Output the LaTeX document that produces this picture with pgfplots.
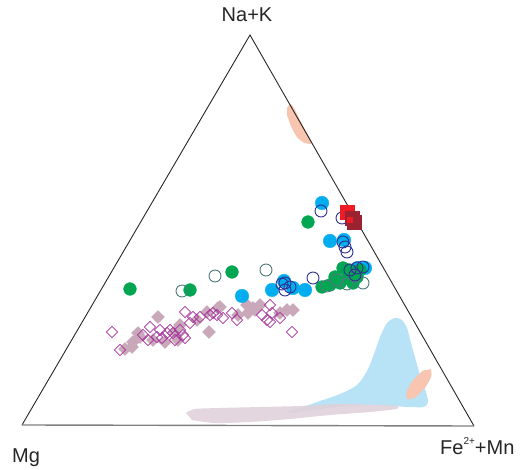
\documentclass[border=0pt]{standalone}
\usepackage{pgfplots}
\pgfplotsset{compat=1.18}
\usepackage{fontspec}
\setmainfont{Liberation Sans}

\definecolor{cyanpt}{HTML}{00AEEF}
\definecolor{greenpt}{HTML}{00A651}
\definecolor{navypt}{HTML}{2E3192}
\definecolor{tealpt}{HTML}{4E7B7A}
\definecolor{purplept}{HTML}{A5319B}
\definecolor{mauvept}{HTML}{C9A8BA}
\definecolor{redpt}{HTML}{ED1C24}
\definecolor{darkredpt}{HTML}{9B2230}
\definecolor{salmonfield}{HTML}{F8C6B0}
\definecolor{bluefield}{HTML}{B8E3F6}
\definecolor{mauvefield}{HTML}{E0D1DA}

\begin{document}
\begin{tikzpicture}
\begin{axis}[
  scale only axis, width=523pt, height=470pt,
  xmin=0, xmax=523, ymin=0, ymax=470, y dir=reverse,
  hide axis, clip=false,
]
% frame of the drawing area (invisible)
\addplot[draw=none, forget plot] coordinates {(0,0) (523,470)};

% fields
\addplot[fill=bluefield, draw=none, smooth, tension=0.5] coordinates {
 (285,412) (300,408) (320,401) (340,394) (357,385) (367,371) (374,354)
 (380,337) (387,323) (395,318) (402,320) (407,328) (411,343) (416,361)
 (421,378) (426,392) (428,402) (424,407) (410,407) (390,406) (370,405)
 (340,407) (310,410) (292,413)} -- cycle;
\addplot[fill=mauvefield, fill opacity=0.9, draw=none, smooth, tension=0.5] coordinates {
 (186,413) (195,409) (220,408) (260,407) (300,406) (340,404) (380,405)
 (397,406) (396,409) (370,412) (330,415) (290,419) (250,422) (215,423)
 (192,420)} -- cycle;
\addplot[fill=salmonfield, draw=none, smooth, tension=0.6] coordinates {
 (287,108) (291,104) (295,110) (301,122) (307,133) (312,143) (305,143)
 (297,137) (291,126) (287,115)} -- cycle;
\addplot[fill=salmonfield, draw=none, smooth, tension=0.6] coordinates {
 (430.8,369.2) (431.2,376.6) (424.5,388.3) (414.6,397.6) (407.2,398.8)
 (406.8,391.4) (413.5,379.7) (423.4,370.4)} -- cycle;

% triangle
\addplot[black!85, line width=0.9pt] coordinates {(22,425) (250,35) (474,426)};
\addplot[black!50, line width=1.4pt] coordinates {(22,425) (474,426)};

% filled diamonds
\addplot[only marks, color=mauvept, mark=square*, mark size=4.6pt,
  mark options={rotate=45, line width=0.3pt}] coordinates {
 (132,347) (133,342) (138,333) (140,337) (153,340) (158,317) (165,342)
 (175,332) (178,340) (180,325) (197,320) (207,312) (209,332) (218,308)
 (220,307) (238,315) (247,305) (248,313) (253,308) (255,310) (260,305)
 (280,313) (287,310) (293,310) (125,349)};
% open diamonds
\addplot[only marks, color=purplept, mark=square, mark size=4pt,
  mark options={rotate=45, line width=0.8pt}] coordinates {
 (112,332) (120,350) (143,335) (148,340) (150,327) (157,337) (160,330)
 (162,338) (167,333) (170,330) (173,333) (175,340) (180,330) (183,335)
 (185,338) (185,312) (190,323) (193,317) (200,317) (210,315) (213,313)
 (217,315) (223,318) (232,313) (237,320) (262,315) (267,320) (270,305)
 (270,322) (272,313) (280,318) (292,332)};
% cyan circles
\addplot[only marks, color=cyanpt, mark=*, mark size=6.8pt,
  mark options={line width=0.3pt}] coordinates {
 (322,203) (330,241) (344,240) (365,268) (358,268) (272,290) (284,281)
 (293,288) (305,290) (242,296)};
% green circles
\addplot[only marks, color=greenpt, mark=*, mark size=6.4pt,
  mark options={line width=0.3pt}] coordinates {
 (130,289) (232,272) (308,222) (190,290) (322,287) (335,277) (343,268)
 (340,283) (357,277) (353,283) (360,270) (348,270) (330,285) (347,278)};
% teal open circles
\addplot[only marks, color=tealpt, mark=o, mark size=6pt,
  mark options={line width=0.9pt}] coordinates {
 (182,291) (215,276) (266,270) (327,286) (347,284) (363,283) (337,280)
 (355,276)};
% navy open circles
\addplot[only marks, color=navypt, mark=o, mark size=6pt,
  mark options={line width=0.9pt}] coordinates {
 (321,211) (342,218) (343,242) (345,247) (347,252) (357,268) (363,267)
 (355,275) (313,278) (285,283) (285,290) (282,284) (350,270) (290,287)};
% squares
\addplot[only marks, color=redpt, mark=square*, mark size=6.8pt,
  mark options={line width=0.3pt}] coordinates {(347,212)};
\addplot[only marks, color=darkredpt, mark=square*, mark size=6.8pt,
  mark options={line width=0.3pt}] coordinates {(352,218) (354,222)};
\addplot[only marks, color=redpt, mark=square*, mark size=2.4pt,
  mark options={line width=0.3pt}] coordinates {(350,220)};

% vertex labels
\node[anchor=base, font=\fontsize{20}{24}\selectfont, text=black!85] at (axis cs:247,22) {Na+K};
\node[anchor=base west, font=\fontsize{20}{24}\selectfont, text=black!85, inner sep=0pt] at (axis cs:12,463) {Mg};
\node[anchor=base west, font=\fontsize{20}{24}\selectfont, text=black!85, inner sep=0pt] at (axis cs:440,455)
  {Fe\raisebox{0.52em}{\fontsize{10}{12}\selectfont 2+}+Mn};
\end{axis}
\end{tikzpicture}
\end{document}
